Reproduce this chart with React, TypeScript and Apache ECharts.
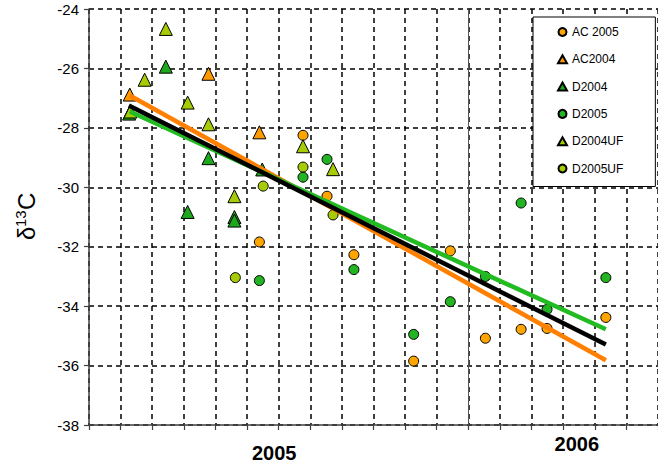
import React, { useEffect, useRef } from "react";
import * as echarts from "echarts";

// months since the start of 2005 (x) and δ13C values (y)
const ac2005 = [[6.77,-28.25],[7.53,-30.3],[5.39,-31.84],[8.38,-32.27],[11.43,-32.14],[10.27,-35.85],[12.54,-35.08],[13.67,-34.78],[14.49,-34.75],[16.35,-34.38]];
const ac2004 = [[1.29,-26.88],[3.78,-26.18],[5.39,-28.15]];
const d2004 = [[2.43,-25.94],[1.27,-27.52],[3.78,-29.02],[5.48,-29.4],[3.12,-30.83],[4.6,-31.0],[4.6,-31.12]];
const d2005 = [[6.77,-29.66],[7.53,-29.06],[5.39,-33.14],[8.38,-32.77],[13.67,-30.53],[12.54,-33.0],[11.43,-33.85],[16.35,-33.04],[10.27,-34.95],[14.49,-34.11]];
const d2004uf = [[2.43,-24.67],[1.76,-26.38],[1.31,-27.45],[3.12,-27.15],[3.78,-27.88],[6.77,-28.62],[7.72,-29.39],[4.6,-30.3]];
const d2005uf = [[6.77,-29.32],[5.51,-29.96],[7.72,-30.93],[4.63,-33.04]];

// trend lines (end points)
const orangeFit = [[1.29,-26.91],[16.35,-35.82]];
const greenFit = [[1.29,-27.45],[16.35,-34.78]];
const blackFit = [[1.26,-27.25],[16.35,-35.29]];

const yearLabels = ["2005", "2006"];
const yearPositions = [5.86, 15.43];
const yearBoundary = 12;

const FONT = "Arial, 'Liberation Sans', sans-serif";

export default function App() {
  const ref = useRef<HTMLDivElement>(null);
  useEffect(() => {
    if (!ref.current) return;
    const chart = echarts.init(ref.current, null, { renderer: "svg" });
    const scatter = (name: string, data: number[][], symbol: string, size: number, color: string) => ({
      name,
      type: "scatter",
      data,
      symbol,
      symbolSize: size,
      itemStyle: { color, borderColor: "#000", borderWidth: 1, opacity: 1 },
      z: 3,
    });
    const fit = (data: number[][], color: string, z: number, extra: any = {}) => ({
      type: "line",
      data,
      symbol: "none",
      lineStyle: { color, width: 4.5 },
      z,
      silent: true,
      ...extra,
    });
    chart.setOption({
      animation: false,
      backgroundColor: "#fff",
      grid: { left: 89, top: 9, width: 571.5, height: 418, containLabel: false },
      xAxis: {
        type: "value",
        min: 0,
        max: 18,
        interval: 1,
        axisLine: { show: true, lineStyle: { color: "#404040", width: 1.5 } },
        axisTick: { show: true, length: 5, lineStyle: { color: "#404040", width: 1.2 } },
        splitLine: { show: true, lineStyle: { color: "#000", type: [5, 4], width: 1.5 } },
        axisLabel: {
          show: true,
          customValues: yearPositions,
          margin: 8,
          formatter: (v: number) => {
            const i = yearPositions.findIndex((p) => Math.abs(p - v) < 1e-6);
            if (i < 0) return "";
            return i === 0 ? `{a|${yearLabels[i]}}` : `{b|${yearLabels[i]}}`;
          },
          rich: {
            a: { fontSize: 20, fontWeight: "bold", fontFamily: FONT, color: "#000", padding: [10, 0, 0, 0] },
            b: { fontSize: 20, fontWeight: "bold", fontFamily: FONT, color: "#000", padding: [1, 0, 0, 0] },
          },
        },
      },
      yAxis: {
        type: "value",
        min: -38,
        max: -24,
        interval: 2,
        axisLine: { show: true, lineStyle: { color: "#404040", width: 1.5 } },
        axisTick: { show: true, length: 5, lineStyle: { color: "#404040", width: 1.2 } },
        splitLine: { show: true, lineStyle: { color: "#000", type: [5, 4], width: 1.5 } },
        axisLabel: { fontSize: 15, fontFamily: FONT, color: "#000", margin: 10 },
      },
      legend: {
        orient: "vertical",
        left: 533,
        top: 17,
        padding: [8, 32, 11, 24],
        itemGap: 13.3,
        itemWidth: 9,
        itemHeight: 8,
        backgroundColor: "#fff",
        borderColor: "#000",
        borderWidth: 1,
        borderRadius: 0,
        textStyle: { fontSize: 12, fontFamily: FONT, color: "#000", lineHeight: 14 },
        data: [
          { name: "AC 2005", icon: "circle" },
          { name: "AC2004", icon: "triangle" },
          { name: "D2004", icon: "triangle" },
          { name: "D2005", icon: "circle" },
          { name: "D2004UF", icon: "triangle" },
          { name: "D2005UF", icon: "circle" },
        ],
      },
      graphic: [
        {
          type: "group",
          x: 26,
          y: 240,
          rotation: Math.PI / 2,
          children: [
            { type: "text", x: 0, y: 0, style: { text: "δ", fontSize: 24, fontFamily: FONT, fill: "#000", align: "left", verticalAlign: "middle", textAlign: "left", textVerticalAlign: "middle" } },
            { type: "text", x: 13, y: -6, style: { text: "13", fontSize: 15, fontFamily: FONT, fill: "#000", align: "left", verticalAlign: "middle", textAlign: "left", textVerticalAlign: "middle" } },
            { type: "text", x: 30, y: 0, style: { text: "C", fontSize: 24, fontFamily: FONT, fill: "#000", align: "left", verticalAlign: "middle", textAlign: "left", textVerticalAlign: "middle" } },
          ],
        },
      ],
      series: [
        scatter("AC 2005", ac2005, "circle", 10, "#FFA500"),
        scatter("AC2004", ac2004, "triangle", 13, "#FF9900"),
        scatter("D2004", d2004, "triangle", 13, "#1DA81D"),
        scatter("D2005", d2005, "circle", 10, "#22B422"),
        scatter("D2004UF", d2004uf, "triangle", 13, "#A5CC05"),
        scatter("D2005UF", d2005uf, "circle", 10, "#A5CC05"),
        fit(orangeFit, "#FF7F00", 5, {
          markLine: {
            silent: true,
            symbol: ["none", "none"],
            label: { show: false },
            lineStyle: { color: "#555", type: "solid", width: 1 },
            data: [{ xAxis: yearBoundary }],
          },
        }),
        fit(greenFit, "#22BB22", 6),
        fit(blackFit, "#000", 7),
      ],
    });
    return () => chart.dispose();
  }, []);
  return <div ref={ref} style={{ position: "fixed", left: 0, top: 0, width: 658, height: 463 }} />;
}
